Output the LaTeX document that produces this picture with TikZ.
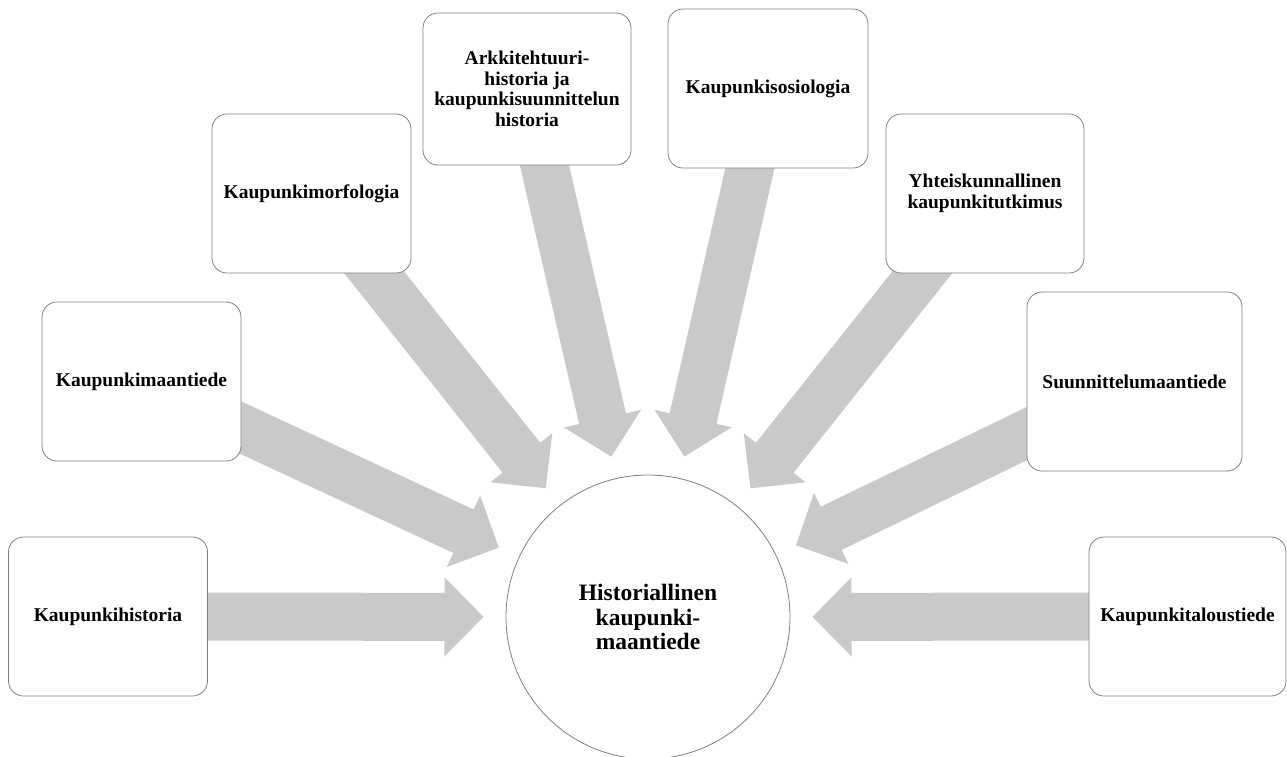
\documentclass[tikz,border=0pt]{standalone}
\usepackage{fontspec}
\setmainfont{Liberation Serif}
\usetikzlibrary{calc,backgrounds}
\definecolor{arrowgray}{RGB}{201,201,201}
\definecolor{edgegray}{RGB}{128,128,128}
\newcommand{\drawbigarrow}[2]{%
  \path ($(#2.center)!203.5pt!(#1.center)$) coordinate (m)
        ($(#2.center)!164.5pt!(#1.center)$) coordinate (t);
  \fill[arrowgray] ($(#1.center)!24pt!90:(#2.center)$)
     -- ($(m)!24pt!-90:(#1.center)$)
     -- ($(m)!39.5pt!-90:(#1.center)$)
     -- (t)
     -- ($(m)!39.5pt!90:(#1.center)$)
     -- ($(m)!24pt!90:(#1.center)$)
     -- ($(#1.center)!24pt!-90:(#2.center)$) -- cycle;
}
\begin{document}
\begin{tikzpicture}[x=1pt,y=-1pt,
  box/.style={draw=edgegray, line width=0.8pt, fill=white, rounded corners=15pt,
    inner sep=2pt, outer sep=0pt, align=center,
    minimum width=199pt, minimum height=159pt,
    font=\fontsize{19.5}{20.5}\selectfont\bfseries},
  hubstyle/.style={circle, draw=edgegray, line width=0.8pt, fill=white,
    minimum size=284pt, inner sep=0pt, outer sep=0pt, align=center,
    font=\fontsize{23.5}{24.5}\selectfont\bfseries}]
\useasboundingbox (0,0) rectangle (1287,756);
\node[hubstyle] (hub) at (648,617) {Historiallinen\\kaupunki-\\maantiede};
\node[box] (b1) at (108,616.5) {Kaupunkihistoria};
\node[box] (b2) at (141.5,381.5) {Kaupunkimaantiede};
\node[box] (b3) at (311.5,193.5) {Kaupunkimorfologia};
\node[box, minimum width=208pt, minimum height=152pt] (b4) at (527,89)
  {Arkkitehtuuri-\\historia ja\\kaupunkisuunnittelun\\historia};
\node[box, minimum width=200pt] (b5) at (768,88.5) {Kaupunkisosiologia};
\node[box, minimum width=198pt, font=\fontsize{19.5}{21}\selectfont\bfseries] (b6) at (985,193.5)
  {Yhteiskunnallinen\\kaupunkitutkimus};
\node[box, minimum width=215pt, minimum height=179pt] (b7) at (1134.5,381.5) {Suunnittelumaantiede};
\node[box, minimum width=197pt] (b8) at (1187.5,616.5) {Kaupunkitaloustiede};
\begin{pgfonlayer}{background}
  \drawbigarrow{b1}{hub}
  \drawbigarrow{b2}{hub}
  \drawbigarrow{b3}{hub}
  \drawbigarrow{b4}{hub}
  \drawbigarrow{b5}{hub}
  \drawbigarrow{b6}{hub}
  \drawbigarrow{b7}{hub}
  \drawbigarrow{b8}{hub}
\end{pgfonlayer}
\end{tikzpicture}
\end{document}
